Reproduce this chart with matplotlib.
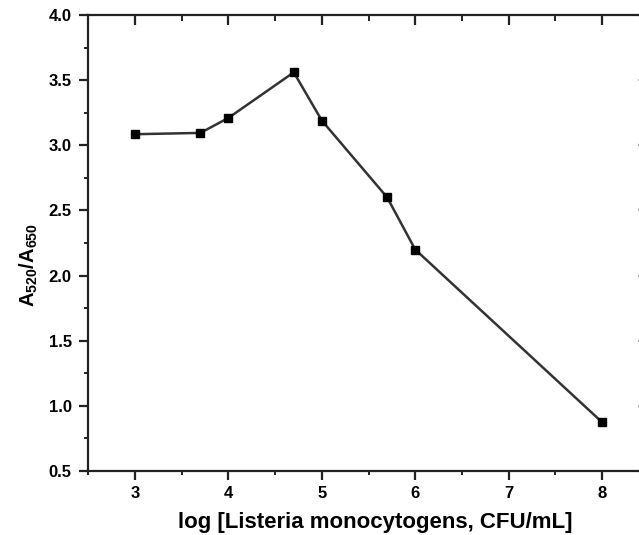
import matplotlib
matplotlib.use("Agg")
import matplotlib.pyplot as plt
from matplotlib.ticker import MultipleLocator

log_conc = [3.0, 3.7, 4.0, 4.7, 5.0, 5.7, 6.0, 8.0]
ratio = [3.085, 3.095, 3.21, 3.56, 3.19, 2.60, 2.20, 0.875]
xticks = [3, 4, 5, 6, 7, 8]
yticks = [0.5, 1.0, 1.5, 2.0, 2.5, 3.0, 3.5, 4.0]

plt.rcParams['font.family'] = ['Liberation Sans', 'DejaVu Sans']
plt.rcParams['mathtext.fontset'] = 'custom'
plt.rcParams['mathtext.bf'] = 'Liberation Sans:bold'
plt.rcParams['mathtext.rm'] = 'Liberation Sans:bold'
plt.rcParams['mathtext.default'] = 'bf'

fig = plt.figure(figsize=(6.39, 5.35), dpi=100)
L, R, T, B = 88.3, 648.7, 15, 471
ax = fig.add_axes([L/639, (535-B)/535, (R-L)/639, (B-T)/535])

ax.plot(log_conc, ratio, color='#333333', linewidth=1.8, marker='s',
        markersize=6.3, markerfacecolor='black', markeredgecolor='black', zorder=3)

ax.set_xlim(2.5, 8.5)
ax.set_ylim(0.5, 4.0)
ax.set_xticks(xticks)
ax.set_yticks(yticks)
ax.xaxis.set_minor_locator(MultipleLocator(0.5))
ax.yaxis.set_minor_locator(MultipleLocator(0.25))
ax.set_xticklabels([str(t) for t in xticks], fontweight='bold', fontsize=12)
ax.set_yticklabels([f"{t:.1f}" for t in yticks], fontweight='bold', fontsize=12)

for s in ax.spines.values():
    s.set_linewidth(1.6)
    s.set_color('#222222')

ax.tick_params(axis='both', which='major', length=6.5, width=1.6, color='#222222')
ax.tick_params(axis='both', which='minor', length=2.8, width=1.4, color='#222222')
ax.tick_params(axis='x', which='both', bottom=True, top=False, direction='out', pad=4)
ax.tick_params(axis='y', which='both', left=True, right=False, direction='out', pad=5.5)

# mirrored inward ticks on top and right
sec_x = ax.secondary_xaxis('top')
sec_x.set_xticks(xticks)
sec_x.xaxis.set_minor_locator(MultipleLocator(0.5))
sec_x.tick_params(which='major', direction='in', length=7, width=1.6, labeltop=False, color='#222222')
sec_x.tick_params(which='minor', direction='in', length=4, width=1.4, color='#222222')
sec_x.spines['top'].set_visible(False)
sec_y = ax.secondary_yaxis('right')
sec_y.set_yticks(yticks)
sec_y.tick_params(which='major', direction='in', length=8, width=1.6, labelright=False, color='#aaaaaa')
sec_y.spines['right'].set_visible(False)

ax.set_xlabel('log [Listeria monocytogens, CFU/mL]', fontsize=16, fontweight='bold')
ax.xaxis.set_label_coords((375 - L) / (R - L), (B - 512) / (B - T))
ax.set_ylabel(r'A$_{\mathbf{520}}$/A$_{\mathbf{650}}$', fontsize=14.5, fontweight='bold')
ax.yaxis.set_label_coords((40 - L) / (R - L), (B - 265) / (B - T))

fig.savefig('out.png', dpi=100)
